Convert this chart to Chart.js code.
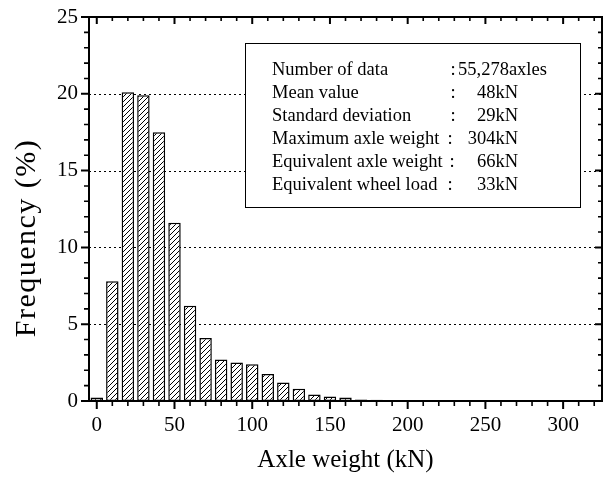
<!DOCTYPE html>
<html><head><meta charset="utf-8">
<script src="https://cdn.jsdelivr.net/npm/chart.js@4/dist/chart.umd.min.js"></script>
<style>html,body{margin:0;padding:0;background:#fff}#wrap{width:605px;height:480px}</style>
</head><body><div id="wrap"><canvas id="c" width="605" height="480"></canvas></div>
<script>
// ---- data ----
const binCenters = [0,10,20,30,40,50,60,70,80,90,100,110,120,130,140,150,160,170,180,190,200];
const frequency  = [0.22,7.8,20.1,19.9,17.5,11.6,6.2,4.1,2.7,2.5,2.4,1.75,1.2,0.8,0.43,0.3,0.22,0.1,0.08,0.07,0.05];
const xTickValues = [0,50,100,150,200,250,300];
const yTickValues = [0,5,10,15,20,25];
const xTitle = 'Axle weight (kN)';
const yTitle = 'Frequency (%)';
const statLabels = ['Number of data','Mean value','Standard deviation','Maximum axle weight','Equivalent axle weight','Equivalent wheel load'];
const statValues = ['55,278axles','48kN','29kN','304kN','66kN','33kN'];

// ---- styling ----
const FONT = '"Liberation Serif", "Times New Roman", serif';
const xMinorStep = 10, yMinorStep = 1;

const ctx = document.getElementById('c').getContext('2d');
function makeHatch(){
  const s = 5, t = document.createElement('canvas');
  t.width = s; t.height = s;
  const g = t.getContext('2d');
  g.fillStyle = '#fff'; g.fillRect(0,0,s,s);
  g.strokeStyle = '#000'; g.lineWidth = 1;
  g.beginPath();
  g.moveTo(-1, s+1); g.lineTo(s+1, -1);
  g.moveTo(-1, 1); g.lineTo(1, -1);
  g.moveTo(s-1, s+1); g.lineTo(s+1, s-1);
  g.stroke();
  return ctx.createPattern(t, 'repeat');
}

const gridPlugin = {
  id: 'dottedGrid',
  beforeDatasetsDraw(chart){
    const c = chart.ctx, ys = chart.scales.y, {left,right} = chart.chartArea;
    c.save();
    c.strokeStyle = '#000'; c.lineWidth = 1; c.setLineDash([2,3]);
    yTickValues.forEach(v => {
      if (v === ys.min || v === ys.max) return;
      const p = Math.round(ys.getPixelForValue(v)) + 0.5;
      c.beginPath(); c.moveTo(left, p); c.lineTo(right, p); c.stroke();
    });
    c.restore();
  }
};

const statPlugin = {
  id: 'statBox',
  afterDatasetsDraw(chart){
    const c = chart.ctx, a = chart.chartArea;
    const bx = a.left + 156, by = a.top + 26, bw = 335, bh = 164;
    c.save();
    c.fillStyle = '#fff'; c.fillRect(bx, by, bw, bh);
    c.strokeStyle = '#000'; c.lineWidth = 1;
    c.strokeRect(Math.round(bx)+0.5, Math.round(by)+0.5, bw, bh);
    c.font = '18.5px ' + FONT; c.fillStyle = '#000'; c.textBaseline = 'middle';
    const colonX = [453,453,453,450,452,450];
    statLabels.forEach((lab, i) => {
      const y = by + 27 + i*23;
      c.textAlign = 'left';
      c.fillText(lab, bx + 27, y);
      c.textAlign = 'center';
      c.fillText(':', colonX[i], y);
      if (i === 0) { c.textAlign = 'left'; c.fillText(statValues[i], 458, y); }
      else { c.textAlign = 'right'; c.fillText(statValues[i], 518, y); }
    });
    c.restore();
  }
};

const yTitlePlugin = {
  id: 'yTitle',
  afterDraw(chart){
    const c = chart.ctx, a = chart.chartArea;
    c.save();
    c.translate(35, (a.top + a.bottom)/2 + 29);
    c.rotate(-Math.PI/2);
    c.font = '30px ' + FONT;
    try { c.letterSpacing = '1.5px'; } catch(e) {}
    c.fillStyle = '#000'; c.textAlign = 'center'; c.textBaseline = 'alphabetic';
    c.fillText(yTitle, 0, 0);
    c.restore();
  }
};

const framePlugin = {
  id: 'frame',
  afterDraw(chart){
    const c = chart.ctx, {left,right,top,bottom} = chart.chartArea;
    const xs = chart.scales.x, ys = chart.scales.y;
    c.save();
    c.strokeStyle = '#000';
    c.lineWidth = 2;
    c.strokeRect(left, top, right-left, bottom-top);
    for (let v = Math.ceil(xs.min/xMinorStep)*xMinorStep; v <= xs.max; v += xMinorStep){
      const major = xTickValues.includes(v);
      const p = xs.getPixelForValue(v);
      c.lineWidth = major ? 2 : 1.6;
      c.beginPath();
      c.moveTo(p, bottom); c.lineTo(p, bottom + (major ? 8 : 5));
      c.moveTo(p, top); c.lineTo(p, top + (major ? 7 : 4));
      c.stroke();
    }
    for (let v = Math.ceil(ys.min/yMinorStep)*yMinorStep; v <= ys.max; v += yMinorStep){
      const major = yTickValues.includes(v);
      const p = ys.getPixelForValue(v);
      c.lineWidth = major ? 2 : 1.6;
      c.beginPath();
      c.moveTo(left, p); c.lineTo(left - (major ? 8 : 5), p);
      c.moveTo(right, p); c.lineTo(right - (major ? 7 : 4), p);
      c.stroke();
    }
    c.restore();
  }
};

new Chart(ctx, {
  type: 'bar',
  data: {
    datasets: [{
      data: binCenters.map((x, i) => ({x: x, y: frequency[i]})),
      backgroundColor: makeHatch(),
      borderColor: '#000',
      borderWidth: 1.5,
      borderSkipped: false,
      barPercentage: 0.8,
      categoryPercentage: 1.0
    }]
  },
  options: {
    responsive: false,
    animation: false,
    devicePixelRatio: 1,
    layout: { padding: { left: 0, top: 17, right: 3, bottom: 0 } },
    plugins: { legend: { display: false }, tooltip: { enabled: false } },
    scales: {
      x: {
        type: 'linear', min: -5, max: 325, offset: false,
        afterBuildTicks: s => { s.ticks = xTickValues.map(v => ({value: v})); },
        afterFit: s => { s.height = 79; s.paddingLeft = 0; s.paddingRight = 0; },
        grid: { display: false, drawTicks: false, offset: false },
        border: { display: false },
        ticks: { color: '#000', font: { family: FONT, size: 21 }, padding: 12, maxRotation: 0, autoSkip: false },
        title: { display: true, text: xTitle, color: '#000', font: { family: FONT, size: 25 }, padding: { top: 0, bottom: 5 } }
      },
      y: {
        type: 'linear', min: 0, max: 25,
        afterBuildTicks: s => { s.ticks = yTickValues.map(v => ({value: v})); },
        afterFit: s => { s.width = 89; s.paddingTop = 0; s.paddingBottom = 0; },
        grid: { display: false, drawTicks: false },
        border: { display: false },
        ticks: { color: '#000', font: { family: FONT, size: 21 }, padding: 11 },
        title: { display: false }
      }
    }
  },
  plugins: [gridPlugin, statPlugin, yTitlePlugin, framePlugin]
});
</script>
</body></html>
